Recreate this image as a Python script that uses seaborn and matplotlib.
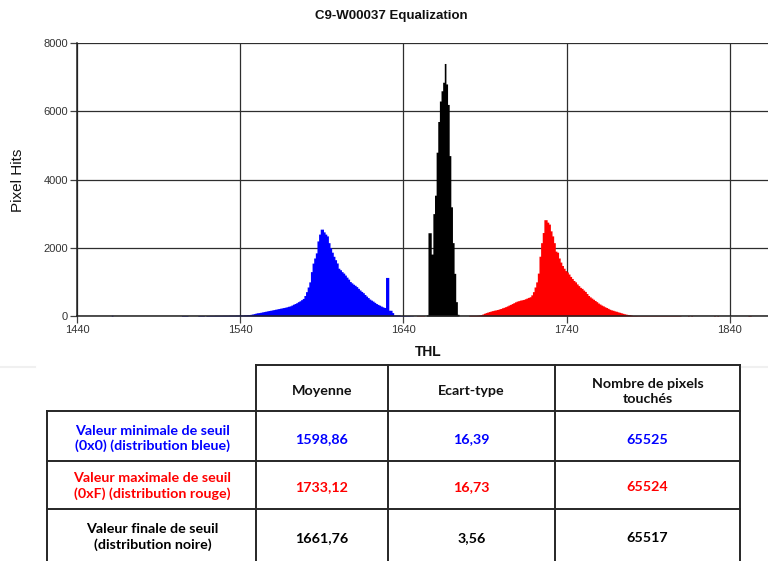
import numpy as np
import pandas as pd
import matplotlib
matplotlib.use("Agg")
import matplotlib.pyplot as plt
import seaborn as sns

# ---------------- data ----------------
title = "C9-W00037 Equalization"
x_label = "THL"
y_label = "Pixel Hits"
x_ticks = [1440, 1540, 1640, 1740, 1840]
y_ticks = [0, 2000, 4000, 6000, 8000]

# blue distribution (minimum threshold 0x0)
blue_start = 1519
blue_hits = [15, 15, 18, 18, 18, 20, 20, 20, 20, 20, 22, 22, 22, 22, 25, 25, 25, 25, 28, 28, 30,
             30, 30, 35, 35, 40, 40, 50, 60, 70, 85,
             95, 100, 110, 120, 130, 140, 150, 160, 168, 178,
             188, 198, 208, 218, 228, 238, 248, 258, 270, 285,
             297, 320, 345, 366, 390, 420, 446, 480, 515, 600,
             713, 850, 1000, 1300, 1550, 1700, 1850, 2200, 2400, 2545,
             2545, 2465, 2400, 2347, 2149, 2000, 1870, 1750, 1650, 1554,
             1400, 1356, 1300, 1257, 1200, 1139, 1080, 1010, 970, 931,
             900, 861, 810, 762, 720, 683, 630, 584, 540, 495,
             465, 436, 400, 366, 340, 317, 290, 267, 250, 1130,
             1130, 170, 168, 100, 30, 30, 30, 30, 15, 15,
             15, 15, 15, 15, 10, 10]
blue_tail_thl = [1461, 1504, 1505, 1506, 1507, 1514, 1515, 1516, 1517]
blue_tail_hits = [20, 15, 15, 15, 15, 15, 15, 15, 15]

# black distribution (final threshold)
black_start = 1654
black_hits = [30, 2440, 2440, 1815, 3000, 3540, 4800, 5700, 6300, 6600,
              6850, 7400, 6800, 6200, 4700, 3200, 2150, 1250, 420, 50]

# red distribution (maximum threshold 0xF)
red_start = 1680
red_hits = [20, 20, 20, 20, 20, 25, 30, 40, 60, 80,
            100, 115, 130, 145, 158, 170, 180, 190, 205, 220,
            240, 255, 275, 295, 320, 340, 365, 390, 415, 436,
            450, 465, 475, 485, 505, 525, 545, 564, 620, 713,
            850, 1000, 1257, 1752, 2149, 2446, 2822, 2822, 2750, 2693,
            2495, 2347, 2149, 1901, 1870, 1700, 1580, 1480, 1400, 1330,
            1290, 1230, 1160, 1100, 1040, 1000, 940, 890, 840, 810,
            760, 720, 660, 600, 560, 525, 490, 455, 420, 380,
            350, 320, 297, 270, 248, 225, 198, 180, 168, 150,
            139, 122, 109, 95, 79, 65, 55, 45, 40, 30,
            15, 15, 15, 12, 12, 12, 12, 12, 12, 12,
            12, 12, 12, 12, 12, 12, 12, 12, 12, 12,
            12, 12, 12, 12, 12, 12, 12, 12, 12, 12]
red_tail_thl = [1648, 1649, 1650, 1651, 1652, 1814, 1816, 1830, 1832, 1851, 1852]
red_tail_hits = [10, 10, 10, 10, 10, 15, 15, 15, 15, 15, 15]

# table
col_headers = ["Moyenne", "Ecart-type", "Nombre de pixels\ntouchés"]
row_labels = ["Valeur minimale de seuil\n(0x0) (distribution bleue)",
              "Valeur maximale de seuil\n(0xF) (distribution rouge)",
              "Valeur finale de seuil\n(distribution noire)"]
means = ["1598,86", "1733,12", "1661,76"]
stds = ["16,39", "16,73", "3,56"]
counts = ["65525", "65524", "65517"]
row_colors = ["#0000ff", "#ff0000", "#000000"]

# ---------------- build frame ----------------
frames = []
for name, start, hits, tthl, thits in [
        ("blue", blue_start, blue_hits, blue_tail_thl, blue_tail_hits),
        ("black", black_start, black_hits, [], []),
        ("red", red_start, red_hits, red_tail_thl, red_tail_hits)]:
    thl = list(range(start, start + len(hits))) + list(tthl)
    frames.append(pd.DataFrame({"thl": np.array(thl, dtype=float) + 0.5,
                                "hits": np.array(list(hits) + list(thits), dtype=float),
                                "dist": name}))
df = pd.concat(frames, ignore_index=True)

# ---------------- figure ----------------
W, H = 768, 561
fig = plt.figure(figsize=(W / 100, H / 100), dpi=100)

tab = fig.add_axes([0, 0, 1, 1])
tab.set_xlim(0, W)
tab.set_ylim(H, 0)
tab.axis("off")

ax = fig.add_axes([77 / W, 1 - 316 / H, (W - 77) / W, (316 - 43) / H])
ax.set_axisbelow(True)
palette = {"blue": "#0000ff", "black": "#000000", "red": "#ff0000"}
sns.histplot(data=df, x="thl", weights="hits", hue="dist", palette=palette,
             binwidth=1, binrange=(1440, 1864), element="step", fill=True,
             alpha=1, linewidth=0, legend=False, ax=ax)

ax.set_xlim(1440, 1863.3)
ax.set_ylim(0, 8000)
ax.set_xticks(x_ticks)
ax.set_yticks(y_ticks)
ax.grid(True, color="#2e2e2e", linewidth=0.9)
for s in ["top", "right"]:
    ax.spines[s].set_visible(False)
for s in ["left", "bottom"]:
    ax.spines[s].set_color("#202020")
    ax.spines[s].set_linewidth(1.1)
    ax.spines[s].set_zorder(5)
ax.tick_params(axis="both", length=5, width=0.9, color="#404040",
               labelsize=8, labelcolor="#333333", pad=1.5)
for lab in ax.get_xticklabels() + ax.get_yticklabels():
    lab.set_fontfamily("Liberation Sans")
ax.set_xlabel("")
ax.set_ylabel("")

fig.text(391 / W, 1 - 16 / H, title, ha="center", va="center",
         fontsize=9.5, fontweight="bold", family="Liberation Sans", color="#111111")
fig.text(18 / W, 1 - 180 / H, y_label, ha="center", va="center", rotation=90,
         fontsize=11, family="Liberation Sans", color="#111111")
fig.text(428 / W, 1 - 352 / H, x_label, ha="center", va="center",
         fontsize=10, fontweight="bold", family="Liberation Sans", color="#111111")

# ---------------- table ----------------
lc = "#262626"
lw = 1.4
col_x = [47, 256, 388, 555, 740]
row_y = [365, 411, 461, 509, 561]
tab.plot([col_x[1], col_x[4]], [row_y[0], row_y[0]], color=lc, lw=lw)
for y in row_y[1:4]:
    tab.plot([col_x[0], col_x[4]], [y, y], color=lc, lw=lw)
tab.plot([col_x[0], col_x[0]], [row_y[1], H], color=lc, lw=lw)
for x in col_x[1:]:
    tab.plot([x, x], [row_y[0], H], color=lc, lw=lw)
tab.plot([0, 35], [367, 367], color="#f0f0f0", lw=1.5)
tab.plot([742, 768], [367, 367], color="#f0f0f0", lw=1.5)

tfont = dict(family="Lato", fontsize=10.3, fontweight="bold", ha="center", va="center",
             linespacing=1.3)
col_cx = [(col_x[i] + col_x[i + 1]) / 2 for i in range(4)]
for i, h in enumerate(col_headers):
    tab.text(col_cx[i + 1], 391, h, color="#111111", **tfont)
row_cy = [438.5, 486, 537]
for r in range(3):
    c = row_colors[r]
    tab.text(col_cx[0] + 1, row_cy[r], row_labels[r], color=c, **tfont)
    tab.text(col_cx[1], row_cy[r] + 1, means[r], color=c, **tfont)
    tab.text(col_cx[2], row_cy[r] + 1, stds[r], color=c, **tfont)
    tab.text(col_cx[3], row_cy[r] + 1, counts[r], color=c, **tfont)

fig.savefig("out.png", dpi=100)
